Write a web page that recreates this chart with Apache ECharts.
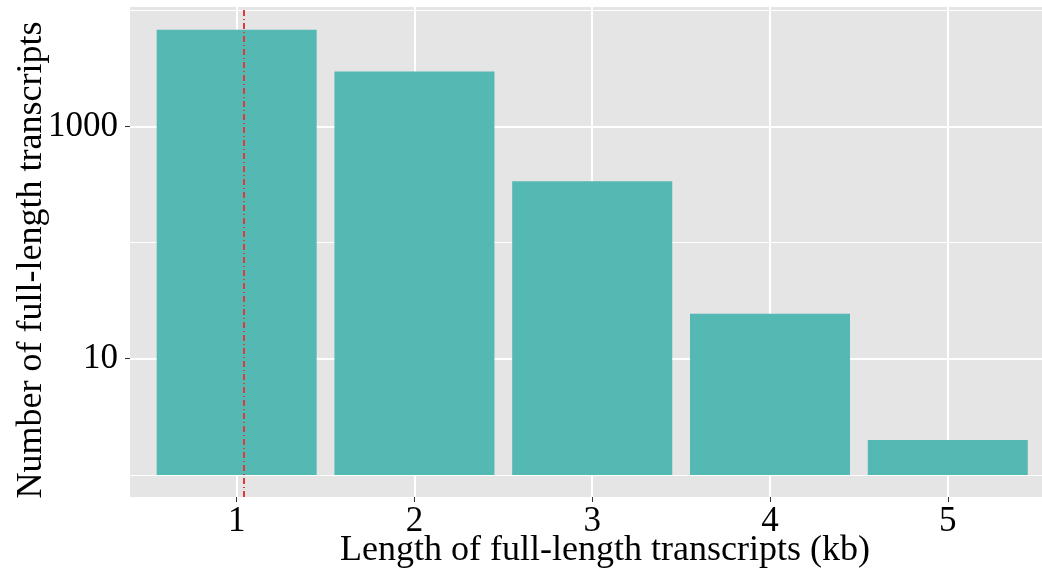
<!DOCTYPE html>
<html>
<head>
<meta charset="utf-8">
<script src="https://cdn.jsdelivr.net/npm/echarts@6/dist/echarts.min.js"></script>
<style>
  html, body { margin: 0; padding: 0; background: #fff; }
  #chart { width: 1042px; height: 573px; }
</style>
</head>
<body>
<div id="chart"></div>
<script>
// data
var lengths = [1, 2, 3, 4, 5];              // kb
var counts = [6790, 2970, 337, 24.4, 2.0];  // number of transcripts
var meanLength = 1.04;                      // red dashed line
var yMajor = [10, 1000];
var yMinor = [1, 100, 10000];

var serif = 'Liberation Serif';
var chart = echarts.init(document.getElementById('chart'));

var barData = lengths.map(function (x, i) { return [x, counts[i]]; });

var gridLines = [];
yMajor.forEach(function (v) { gridLines.push({ yAxis: v, lineStyle: { width: 2 } }); });
yMinor.forEach(function (v) { gridLines.push({ yAxis: v, lineStyle: { width: 1 } }); });
lengths.forEach(function (v) { gridLines.push({ xAxis: v, lineStyle: { width: 2 } }); });

var option = {
    animation: false,
    grid: {
        left: 130, right: 0, top: 7, bottom: 76,
        containLabel: false,
        outerBoundsMode: 'none',
        show: true, backgroundColor: '#e5e5e5', borderWidth: 0
    },
    xAxis: {
        type: 'value',
        min: 0.4,
        max: 5.53,
        name: 'Length of full-length transcripts (kb)',
        nameLocation: 'middle',
        nameMoveOverlap: false,
        nameGap: 36,
        nameTextStyle: { fontFamily: serif, fontSize: 36, color: '#000', padding: [0, 0, 0, 38] },
        axisLine: { show: false },
        axisTick: { show: true, customValues: lengths, length: 5, lineStyle: { color: '#333' } },
        axisLabel: {
            customValues: lengths, fontFamily: serif, fontSize: 35, color: '#000', margin: 7,
            formatter: function (v) { return lengths.indexOf(v) >= 0 ? String(v) : ''; }
        },
        splitLine: { show: false }
    },
    yAxis: {
        type: 'log',
        logBase: 10,
        min: 0.645,
        max: 10655,
        name: 'Number of full-length transcripts',
        nameLocation: 'middle',
        nameMoveOverlap: false,
        nameGap: 80,
        nameTextStyle: { fontFamily: serif, fontSize: 36, color: '#000', padding: [0, 16, 0, 0] },
        axisLine: { show: false },
        axisTick: { show: true, customValues: yMajor, length: 5, lineStyle: { color: '#333' } },
        axisLabel: {
            customValues: yMajor, fontFamily: serif, fontSize: 35, color: '#000', margin: 12,
            formatter: function (v) {
                var r = Math.round(v);
                return yMajor.indexOf(r) >= 0 && Math.abs(v - r) < 1e-6 * r ? String(r) : '';
            }
        },
        splitLine: { show: false }
    },
    series: [
        // grid lines under the bars
        {
            type: 'line',
            data: [],
            z: 1,
            silent: true,
            markLine: {
                z: 1,
                silent: true,
                symbol: ['none', 'none'],
                label: { show: false },
                lineStyle: { color: '#ffffff', type: 'solid' },
                data: gridLines
            }
        },
        {
            type: 'bar',
            z: 3,
            barWidth: 160,
            itemStyle: { color: '#54b8b3' },
            data: barData,
            markLine: {
                z: 5,
                silent: true,
                symbol: ['none', 'none'],
                label: { show: false },
                lineStyle: { color: '#e0393e', type: [6, 3, 1, 3], width: 2 },
                data: [{ xAxis: meanLength }]
            }
        }
    ]
};

chart.setOption(option);
</script>
</body>
</html>
